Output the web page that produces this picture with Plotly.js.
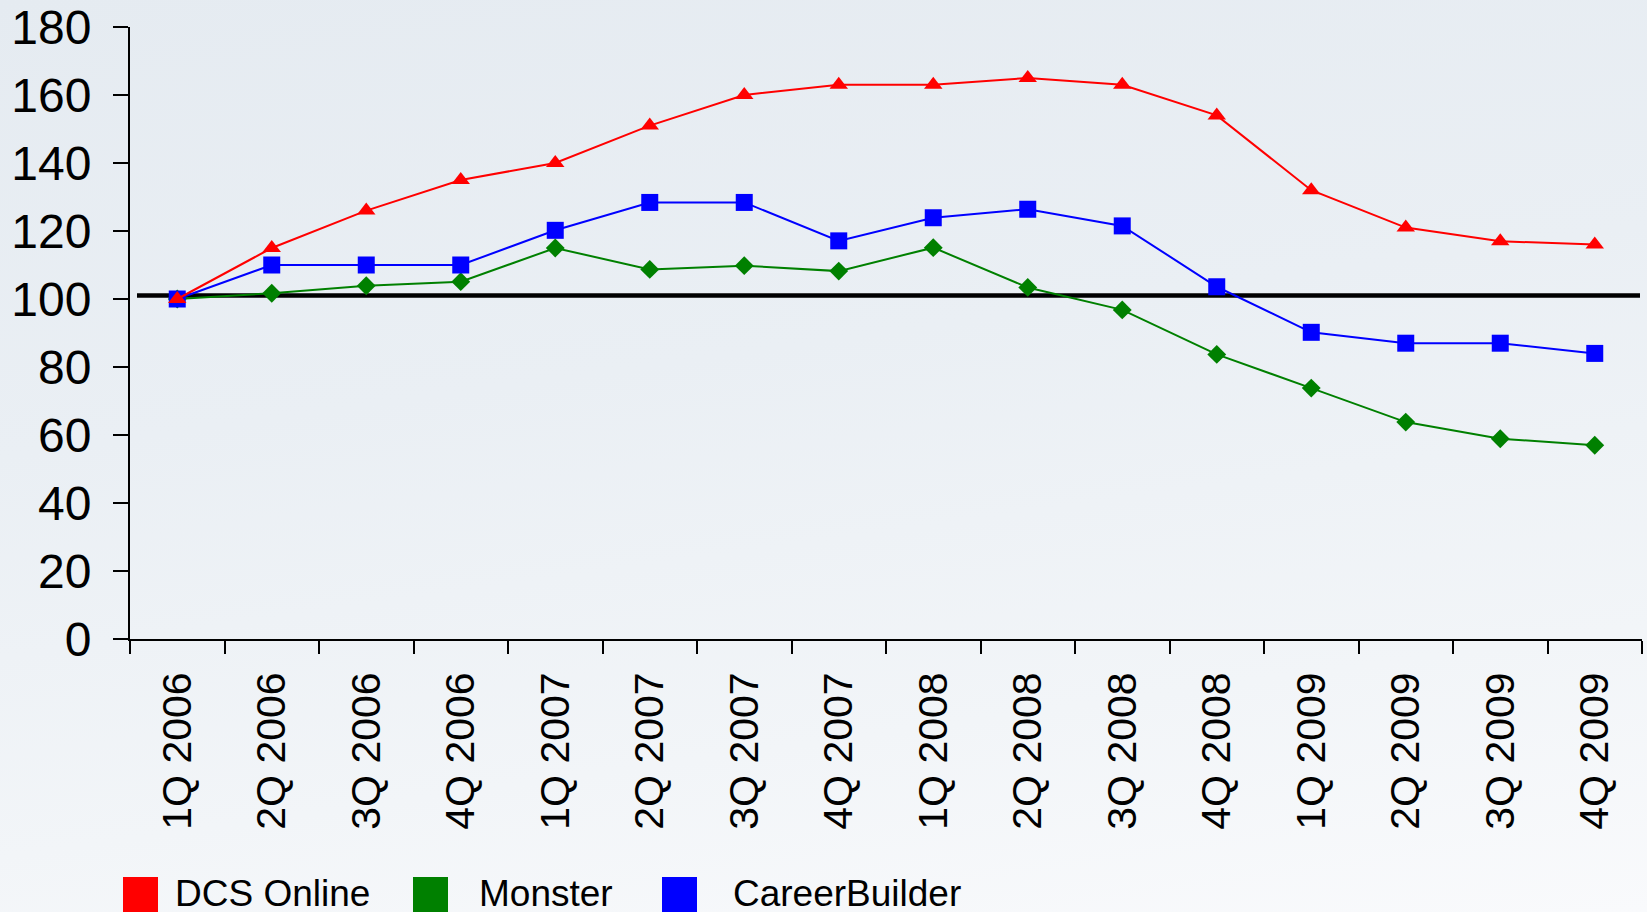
<!DOCTYPE html>
<html>
<head>
<meta charset="utf-8">
<script src="https://cdn.plot.ly/plotly-3.0.1.min.js"></script>
<style>
  html, body { margin: 0; padding: 0; }
  body {
    width: 1647px; height: 912px; overflow: hidden;
    background: linear-gradient(172deg, #e5ebf1 0%, #eaeff4 40%, #f2f5f8 75%, #f9fafc 100%);
  }
  #chart { width: 1647px; height: 912px; }
</style>
</head>
<body>
<div id="chart"></div>
<script>
// ---- data ----
const categories = ['1Q 2006', '2Q 2006', '3Q 2006', '4Q 2006', '1Q 2007', '2Q 2007', '3Q 2007', '4Q 2007',
                    '1Q 2008', '2Q 2008', '3Q 2008', '4Q 2008', '1Q 2009', '2Q 2009', '3Q 2009', '4Q 2009'];
const dcsOnline     = [100, 115, 126, 135, 140, 151, 160, 163, 163, 165, 163, 154, 132, 121, 117, 116];
const monster       = [100, 101.7, 103.9, 105.1, 115, 108.7, 109.8, 108.2, 115.1, 103.4, 96.8, 83.7, 73.8, 63.8, 58.9, 57];
const careerBuilder = [100, 110, 110, 110, 120.2, 128.4, 128.4, 117.1, 123.9, 126.4, 121.5, 103.6, 90.2, 87, 87, 84];
const baselineValue = 101;
const yTicks = [0, 20, 40, 60, 80, 100, 120, 140, 160, 180];
const seriesNames = ['DCS Online', 'Monster', 'CareerBuilder'];
const seriesColors = ['#ff0000', '#008000', '#0000ff'];

// ---- layout helpers ----
const W = 1647, H = 912;
const M = { l: 130, r: 5, t: 27, b: 273 };
const plotW = W - M.l - M.r, plotH = H - M.t - M.b;
const pxX = px => (px - M.l) / plotW;
const pxY = py => (H - M.b - py) / plotH;
const FONT = '"Liberation Sans", Arial, sans-serif';

const traces = [
  { x: categories, y: monster, name: seriesNames[1], type: 'scatter', mode: 'lines+markers',
    line: { color: seriesColors[1], width: 2 }, marker: { symbol: 'diamond', size: 14.5, color: seriesColors[1] } },
  { x: categories, y: careerBuilder, name: seriesNames[2], type: 'scatter', mode: 'lines+markers',
    line: { color: seriesColors[2], width: 2 }, marker: { symbol: 'square', size: 17, color: seriesColors[2] } },
  { x: categories, y: dcsOnline, name: seriesNames[0], type: 'scatter', mode: 'lines+markers',
    line: { color: seriesColors[0], width: 2 }, marker: { symbol: 'triangle-up', size: 16, color: seriesColors[0] } }
];

// legend (custom, large squares)
const legendSquares = [[123, 158], [413, 448], [662, 697]];
const legendTextX = [175, 479, 733];
const shapes = [
  { type: 'line', xref: 'paper', yref: 'y', x0: pxX(137), x1: pxX(1640), y0: baselineValue, y1: baselineValue,
    line: { color: '#000', width: 4.5 }, layer: 'below' }
];
const annotations = [];
const legendOrder = [0, 1, 2];
legendOrder.forEach((i, k) => {
  shapes.push({ type: 'rect', xref: 'paper', yref: 'paper',
    x0: pxX(legendSquares[k][0]), x1: pxX(legendSquares[k][1]), y0: pxY(877), y1: pxY(915),
    fillcolor: seriesColors[i], line: { width: 0 } });
  annotations.push({ xref: 'paper', yref: 'paper', x: pxX(legendTextX[k] - 2), y: pxY(893), xanchor: 'left', yanchor: 'middle',
    text: seriesNames[i], showarrow: false, font: { family: FONT, size: 37, color: '#000' } });
});

const layout = {
  width: W, height: H,
  margin: M,
  paper_bgcolor: 'rgba(0,0,0,0)',
  plot_bgcolor: 'rgba(0,0,0,0)',
  showlegend: false,
  font: { family: FONT, color: '#000' },
  xaxis: {
    type: 'category', range: [-0.5, categories.length - 0.5],
    tickson: 'boundaries', ticks: 'outside', ticklen: 13, tickwidth: 2, tickcolor: '#000',
    showline: true, linecolor: '#000', linewidth: 2, showgrid: false, zeroline: false,
    tickangle: -90, tickfont: { family: FONT, size: 41, color: '#000' }, ticklabelstandoff: 15
  },
  yaxis: {
    range: [0, 180], tickmode: 'array', tickvals: yTicks, ticktext: yTicks.map(String),
    ticks: 'outside', ticklen: 15, tickwidth: 2, tickcolor: '#000',
    showline: true, linecolor: '#000', linewidth: 2, showgrid: false, zeroline: false,
    tickfont: { family: FONT, size: 48, color: '#000' }, ticklabelstandoff: 12
  },
  xaxis2: {
    overlaying: 'x', anchor: 'y', side: 'bottom', type: 'linear', range: [-0.5, categories.length - 0.5],
    tickmode: 'linear', tick0: -0.5, dtick: 1, ticks: 'inside', ticklen: 13, tickwidth: 2, tickcolor: '#000',
    showticklabels: false, showline: false, showgrid: false, zeroline: false
  },
  yaxis2: {
    overlaying: 'y', anchor: 'x', side: 'left', range: [0, 180], tickmode: 'array', tickvals: yTicks,
    ticks: 'inside', ticklen: 15, tickwidth: 2, tickcolor: '#000',
    showticklabels: false, showline: false, showgrid: false, zeroline: false
  },
  shapes: shapes,
  annotations: annotations
};

Plotly.newPlot('chart', traces, layout, { displayModeBar: false, staticPlot: true });
</script>
</body>
</html>
